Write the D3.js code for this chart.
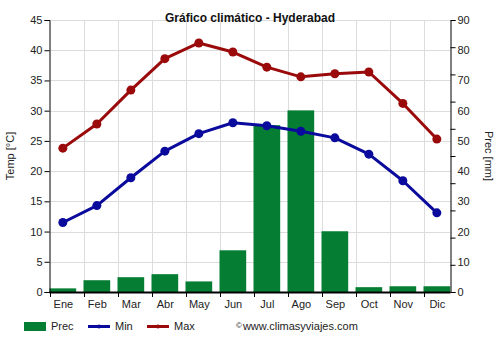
<!DOCTYPE html>
<html>
<head>
<meta charset="utf-8">
<script src="https://cdn.jsdelivr.net/npm/d3@7"></script>
<style>
  html, body { margin: 0; padding: 0; background: #fff; }
  svg { display: block; font-family: "Liberation Sans", Arial, sans-serif; }
</style>
</head>
<body>
<svg id="chart" width="500" height="350"></svg>
<script>
// Monthly climate data for Hyderabad
const months = ["Ene", "Feb", "Mar", "Abr", "May", "Jun", "Jul", "Ago", "Sep", "Oct", "Nov", "Dic"];
const tempMin = [11.5, 14.3, 18.9, 23.3, 26.2, 28.0, 27.5, 26.6, 25.5, 22.8, 18.4, 13.1];
const tempMax = [23.8, 27.8, 33.4, 38.6, 41.2, 39.7, 37.2, 35.6, 36.1, 36.4, 31.2, 25.3];
const prec = [1.2, 3.9, 4.9, 5.9, 3.5, 13.8, 55.2, 60.1, 20.1, 1.6, 1.9, 1.9];
const tempTicks = [0, 5, 10, 15, 20, 25, 30, 35, 40, 45];
const precLabels = [0, 10, 20, 30, 40, 50, 60, 70, 80, 90];
const precTickMarks = [0, 9, 18, 27, 36, 45, 54, 63, 72, 81, 90];

const svg = d3.select("#chart");
const plotLeft = 49.5, plotRight = 450.5, plotTop = 20, plotBottom = 292;

const x = d3.scaleBand().domain(months).range([plotLeft, plotLeft + 34 * 12]).paddingInner(0).paddingOuter(0);
const barW = x.bandwidth() * 0.785;
const cx = m => x(m) + barW / 2;

const yT = d3.scaleLinear().domain([0, 45]).range([plotBottom, plotTop]);
const yP = d3.scaleLinear().domain([0, 90]).range([plotBottom, plotTop]);

// Grid
const grid = svg.append("g").attr("stroke", "#dcdcdc").attr("stroke-width", 1);
tempTicks.filter(t => t > 0).forEach(t => {
  grid.append("line").attr("x1", plotLeft).attr("x2", plotRight)
    .attr("y1", Math.round(yT(t)) + 0.5).attr("y2", Math.round(yT(t)) + 0.5);
});
months.slice(1).forEach(m => {
  grid.append("line").attr("x1", Math.round(x(m)) + 0.5).attr("x2", Math.round(x(m)) + 0.5)
    .attr("y1", plotTop).attr("y2", plotBottom);
});

// Precipitation bars
svg.append("g").selectAll("rect").data(prec).join("rect")
  .attr("x", (d, i) => x(months[i]))
  .attr("width", barW)
  .attr("y", d => yP(d))
  .attr("height", d => yP(0) - yP(d))
  .attr("fill", "#057e33");

// Temperature lines
const line = d3.line().x((d, i) => cx(months[i])).y(d => yT(d));
function series(data, color) {
  const g = svg.append("g");
  g.append("path").datum(data).attr("d", line)
    .attr("fill", "none").attr("stroke", color).attr("stroke-width", 3).attr("stroke-linejoin", "round");
  g.selectAll("circle").data(data).join("circle")
    .attr("cx", (d, i) => cx(months[i])).attr("cy", d => yT(d)).attr("r", 4.5)
    .attr("fill", color);
}
series(tempMin, "#0a0a9c");
series(tempMax, "#9b0a0a");

// Axes
const fontSize = 11;
const axL = svg.append("g").attr("transform", `translate(${plotLeft},0)`)
  .call(d3.axisLeft(yT).tickValues(tempTicks).tickSize(5).tickPadding(2));
const axR = svg.append("g").attr("transform", `translate(${plotRight},0)`)
  .call(d3.axisRight(yP).tickValues(precTickMarks).tickSize(5).tickFormat(""));
const axRL = svg.append("g").attr("transform", `translate(${plotRight},0)`)
  .call(d3.axisRight(yP).tickValues(precLabels).tickSize(0).tickPadding(7));
axRL.select(".domain").remove();
const axB = svg.append("g").attr("transform", `translate(0,${plotBottom})`)
  .call(d3.axisBottom(x).tickSize(5).tickPadding(3).tickSizeOuter(0));
axB.selectAll(".tick").attr("transform", d => `translate(${Math.round(x(d)) + 0.5},0)`);
axB.selectAll(".tick text").attr("x", barW / 2 - 0.5);
axB.select(".domain").attr("stroke-width", 2).attr("d", `M${plotLeft},0.5H${plotRight}`);

[axL, axR, axRL, axB].forEach(a => {
  a.selectAll("text").attr("font-size", fontSize).attr("font-family", "Liberation Sans, Arial, sans-serif").attr("fill", "#222");
  a.selectAll("line, path").attr("stroke", "#000");
});

// Titles
svg.append("text").attr("x", 250).attr("y", 22).attr("text-anchor", "middle")
  .attr("font-size", 12).attr("font-weight", "bold").attr("fill", "#111")
  .text("Gráfico climático - Hyderabad");
svg.append("text").attr("transform", "translate(14,156) rotate(-90)").attr("text-anchor", "middle")
  .attr("font-size", fontSize).attr("fill", "#222").text("Temp [°C]");
svg.append("text").attr("transform", "translate(485,156) rotate(90)").attr("text-anchor", "middle")
  .attr("font-size", fontSize).attr("fill", "#222").text("Prec [mm]");

// Legend
const lg = svg.append("g").attr("font-size", fontSize).attr("fill", "#222");
lg.append("rect").attr("x", 24).attr("y", 322).attr("width", 22).attr("height", 9).attr("fill", "#057e33");
lg.append("text").attr("x", 51).attr("y", 330).text("Prec");
[["Min", "#0a0a9c", 88], ["Max", "#9b0a0a", 147]].forEach(([label, color, lx]) => {
  lg.append("line").attr("x1", lx).attr("x2", lx + 22).attr("y1", 326.5).attr("y2", 326.5)
    .attr("stroke", color).attr("stroke-width", 3);
  lg.append("circle").attr("cx", lx + 11).attr("cy", 326.5).attr("r", 2).attr("fill", color);
  lg.append("text").attr("x", lx + 27).attr("y", 330).text(label);
});
const credit = lg.append("text").attr("x", 236).attr("y", 330);
credit.append("tspan").attr("font-size", 8).attr("dy", -2).text("©");
credit.append("tspan").attr("dy", 2).attr("dx", 1).text("www.climasyviajes.com");
</script>
</body>
</html>
